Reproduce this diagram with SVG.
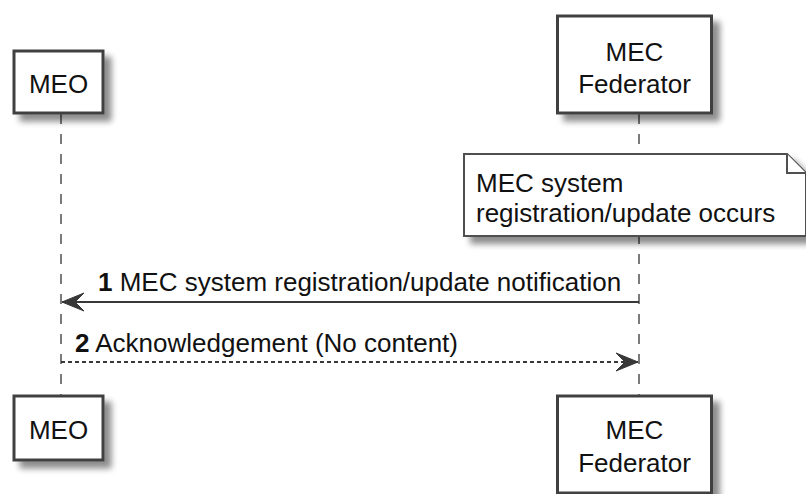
<svg xmlns="http://www.w3.org/2000/svg" width="806" height="494" viewBox="0 0 806 494">
<defs>
<filter id="sh" x="-20%" y="-20%" width="150%" height="150%">
<feGaussianBlur in="SourceAlpha" stdDeviation="3"/>
<feOffset dx="7" dy="7" result="b"/>
<feComponentTransfer><feFuncA type="linear" slope="0.45"/></feComponentTransfer>
<feMerge><feMergeNode/><feMergeNode in="SourceGraphic"/></feMerge>
</filter>
<marker id="ah" viewBox="0 0 24 20" refX="22" refY="10" markerWidth="24" markerHeight="20" markerUnits="userSpaceOnUse" orient="auto">
<polygon points="0,1 22,10 0,19 9,10" fill="#383838" stroke="#383838" stroke-width="1"/>
</marker>
</defs>
<style>
.box{fill:#ffffff;stroke:#404040;stroke-width:3;}
.note{fill:#ffffff;stroke:#505050;stroke-width:2;}
.life{stroke:#505050;stroke-width:1.5;stroke-dasharray:10,10;fill:none;}
.t{font-family:"Liberation Sans",Arial,sans-serif;font-size:26px;fill:#111111;}
.msg{stroke:#383838;stroke-width:2;fill:none;}
.dash{stroke-dasharray:4,3;}
.b{font-weight:bold;}
</style>
<g id="lifelines">
<line class="life" x1="61" y1="114" x2="61" y2="396"/>
<line class="life" x1="639" y1="114" x2="639" y2="396"/>
</g>
<g id="meo-top">
<rect class="box" x="14" y="51" width="89" height="62" filter="url(#sh)"/>
<text class="t" x="58.5" y="93" text-anchor="middle">MEO</text>
</g>
<g id="fed-top">
<rect class="box" x="557.5" y="16" width="154" height="97" filter="url(#sh)"/>
<text class="t" x="634.5" y="61" text-anchor="middle">MEC</text>
<text class="t" x="634.5" y="93" text-anchor="middle">Federator</text>
</g>
<g id="note">
<path class="note" d="M464,154 L787,154 L806,173 L806,236 L464,236 Z" filter="url(#sh)"/>
<path class="note" d="M787,154 L787,173 L806,173" fill="none"/>
<text class="t" x="476" y="192">MEC system</text>
<text class="t" x="476" y="222">registration/update occurs</text>
</g>
<g id="connectors">
<line class="msg" x1="639" y1="302" x2="62" y2="302" marker-end="url(#ah)"/>
<text class="t" x="98" y="291"><tspan class="b">1</tspan> MEC system registration/update notification</text>
<line class="msg dash" x1="61" y1="362" x2="638" y2="362" marker-end="url(#ah)"/>
<text class="t" x="75" y="352"><tspan class="b">2</tspan> Acknowledgement (No content)</text>
</g>
<g id="meo-bottom">
<rect class="box" x="14" y="396" width="89" height="64" filter="url(#sh)"/>
<text class="t" x="58.5" y="439" text-anchor="middle">MEO</text>
</g>
<g id="fed-bottom">
<rect class="box" x="557.5" y="396" width="154" height="97" filter="url(#sh)"/>
<text class="t" x="634.5" y="439" text-anchor="middle">MEC</text>
<text class="t" x="634.5" y="472" text-anchor="middle">Federator</text>
</g>
</svg>
